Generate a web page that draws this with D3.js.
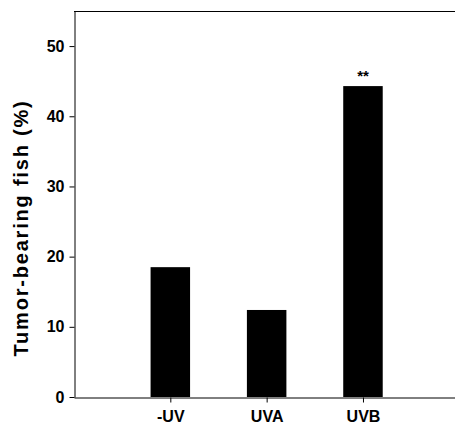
<!DOCTYPE html>
<html>
<head>
<meta charset="utf-8">
<script src="https://cdn.jsdelivr.net/npm/d3@7"></script>
<style>
  html, body { margin: 0; padding: 0; background: #fff; }
  svg { display: block; }
  text { font-family: "Liberation Sans", Arial, sans-serif; font-weight: bold; fill: #000; }
</style>
</head>
<body>
<svg id="chart" width="455" height="426"></svg>
<script>
const categories = ["-UV", "UVA", "UVB"];
const values = [18.5, 12.4, 44.3];
const significance = ["", "", "**"];
const yTicks = [0, 10, 20, 30, 40, 50];
const yLabel = "Tumor-bearing fish (%)";

const svg = d3.select("#chart");
const mLeft = 74, mTop = 11, mBottom = 397, mRight = 459.3;

const x = d3.scaleLinear().domain([0, 4]).range([mLeft, mRight]);
const y = d3.scaleLinear().domain([0, 55]).range([mBottom, mTop]);
const barW = 0.41;

// bars
svg.append("g").selectAll("rect")
  .data(values)
  .join("rect")
  .attr("x", (d, i) => x(i + 1 - barW / 2))
  .attr("width", (d, i) => x(i + 1 + barW / 2) - x(i + 1 - barW / 2))
  .attr("y", d => y(d))
  .attr("height", d => y(0) - y(d))
  .attr("fill", "#000");

// frame top line
svg.append("line")
  .attr("x1", mLeft).attr("x2", mRight)
  .attr("y1", y(55) + 0.5).attr("y2", y(55) + 0.5)
  .attr("stroke", "#000").attr("stroke-width", 1);

// y axis
const yAxis = d3.axisLeft(y).tickValues(yTicks).tickSize(5).tickPadding(5).tickSizeOuter(0);
const gy = svg.append("g").attr("transform", `translate(${mLeft + 0.5},0)`).call(yAxis);
gy.select(".domain").attr("stroke", "#000");
gy.selectAll(".tick line").attr("stroke", "#000");
gy.selectAll(".tick text").style("font-size", "16px").style("font-family", "Liberation Sans, Arial, sans-serif").style("font-weight", "bold").attr("fill", "#000");

// x axis
const xAxis = d3.axisBottom(x).tickValues([1, 2, 3]).tickFormat((d) => categories[d - 1])
  .tickSize(5).tickPadding(8).tickSizeOuter(0);
const gx = svg.append("g").attr("transform", `translate(0,${mBottom + 0.5})`).call(xAxis);
gx.select(".domain").attr("stroke", "#000");
gx.selectAll(".tick line").attr("stroke", "#000");
gx.selectAll(".tick text").style("font-size", "16px").style("font-family", "Liberation Sans, Arial, sans-serif").style("font-weight", "bold").attr("fill", "#000");

// significance marks
svg.append("g").selectAll("text")
  .data(values)
  .join("text")
  .attr("x", (d, i) => x(i + 1))
  .attr("y", d => y(d) - 5)
  .attr("text-anchor", "middle")
  .style("font-size", "15px")
  .text((d, i) => significance[i]);

// y label
svg.append("text")
  .attr("transform", `translate(28,228) rotate(-90)`)
  .attr("text-anchor", "middle")
  .style("font-size", "20px")
  .style("letter-spacing", "1.8px")
  .text(yLabel);
</script>
</body>
</html>
